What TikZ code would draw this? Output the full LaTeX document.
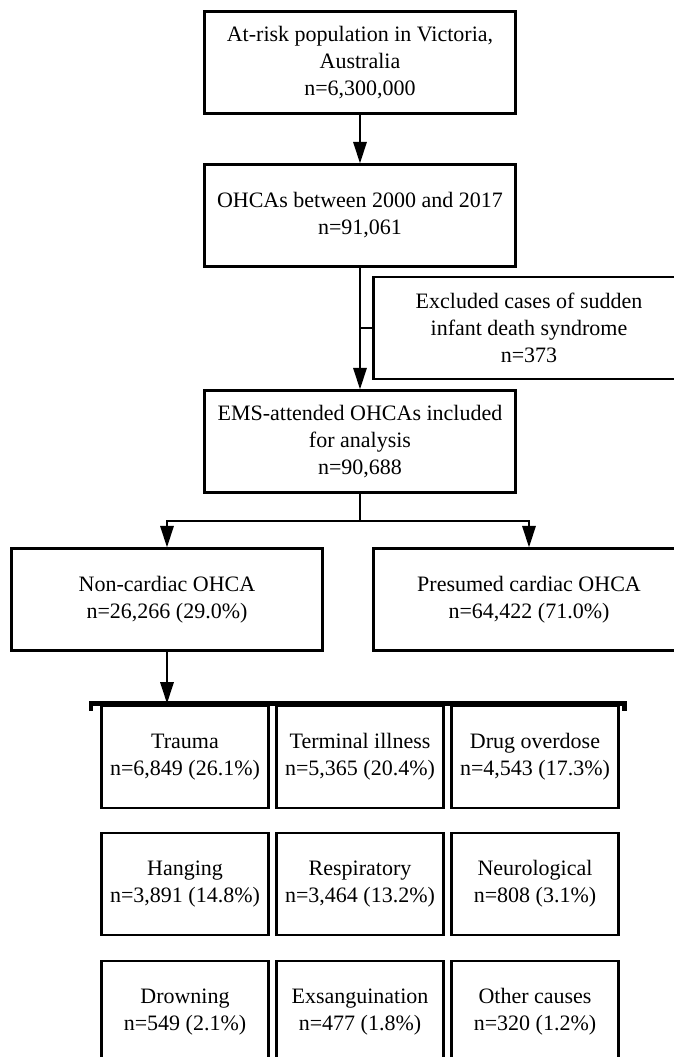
\documentclass[tikz,border=0pt]{standalone}
\usepackage{fontspec}
\setmainfont{Liberation Serif}
\usetikzlibrary{arrows.meta}
\newcommand{\boxfont}{\fontsize{16.5}{20.25}\selectfont}
\tikzset{
  bigbox/.style={draw, line width=1.8pt, align=center, font=\boxfont,
    minimum width=233pt, minimum height=76.5pt, inner sep=2pt},
  causebox/.style={bigbox, minimum width=125pt},
  link/.style={line width=1.5pt},
  arr/.style={link, -{Triangle[length=16pt,width=10pt]}},
  brk/.style={line width=3.6pt}
}
\begin{document}
\begin{tikzpicture}[x=0.75pt, y=-0.75pt]
  \useasboundingbox (0,0) rectangle (674,1057);
  % Selection of cases
  \node[bigbox] (pop) at (360,62.5) {At-risk population in Victoria,\\Australia\\n=6,300,000};
  \node[bigbox] (ohca) at (360,215.5) {OHCAs between 2000 and 2017\\n=91,061};
  \node[bigbox] (excl) at (529,328) {Excluded cases of sudden\\infant death syndrome\\n=373};
  \node[bigbox] (ems) at (360,441.5) {EMS-attended OHCAs included\\for analysis\\n=90,688};
  % Aetiology split
  \node[bigbox] (noncard) at (167,599.5) {Non-cardiac OHCA\\n=26,266 (29.0\%)};
  \node[bigbox] (presum) at (529,599.5) {Presumed cardiac OHCA\\n=64,422 (71.0\%)};
  % Non-cardiac causes
  \node[causebox] (trauma) at (185,757) {Trauma\\n=6,849 (26.1\%)};
  \node[causebox] (terminal) at (360,757) {Terminal illness\\n=5,365 (20.4\%)};
  \node[causebox] (drug) at (535,757) {Drug overdose\\n=4,543 (17.3\%)};
  \node[causebox] (hanging) at (185,884) {Hanging\\n=3,891 (14.8\%)};
  \node[causebox] (resp) at (360,884) {Respiratory\\n=3,464 (13.2\%)};
  \node[causebox] (neuro) at (535,884) {Neurological\\n=808 (3.1\%)};
  \node[causebox] (drown) at (185,1012) {Drowning\\n=549 (2.1\%)};
  \node[causebox] (exsang) at (360,1012) {Exsanguination\\n=477 (1.8\%)};
  \node[causebox] (other) at (535,1012) {Other causes\\n=320 (1.2\%)};
  % Connectors
  \draw[arr] (pop) -- (ohca);
  \draw[arr] (ohca) -- (ems);
  \draw[link] (excl.west) -- (excl.west -| ohca.south);
  \draw[link] (ems.south) -- ++(0,27) coordinate (split);
  \draw[arr] (split) -| (noncard.north);
  \draw[arr] (split) -| (presum.north);
  % Bracket over the causes
  \coordinate (brkL) at (91,703.5);
  \coordinate (brkR) at (624.5,703.5);
  \draw[brk] (brkL) ++(0,7) -- (brkL) -- (brkR) -- ++(0,7);
  \draw[arr] (noncard.south) -- (noncard.south |- brkL);
\end{tikzpicture}
\end{document}
